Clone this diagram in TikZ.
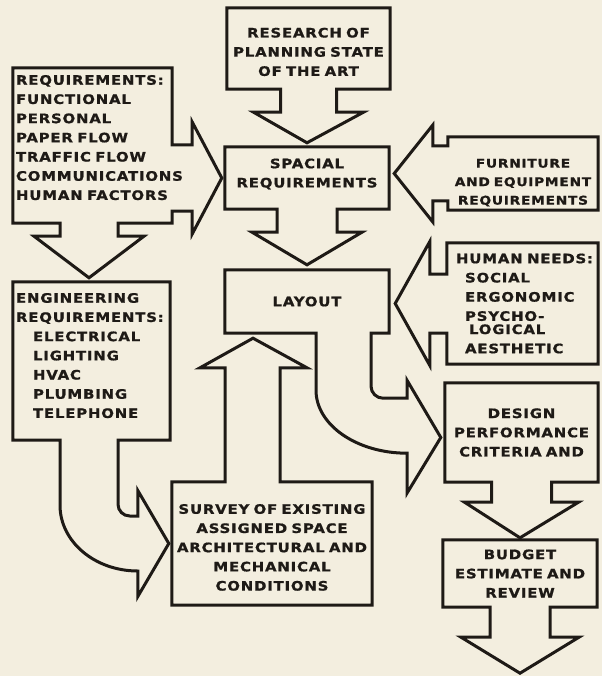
\documentclass[tikz,border=0pt]{standalone}
\usepackage{fontspec}
\newfontfamily\flowfont{DejaVu Sans}[FakeStretch=1.15, FakeBold=1, LetterSpace=6, WordSpace=0.7]
\usepackage{tikz}
\usetikzlibrary{calc}

\definecolor{paper}{RGB}{243,238,223}
\definecolor{ink}{RGB}{30,26,22}

\begin{document}
\begin{tikzpicture}[
    x=1pt, y=-1pt,
    every node/.style={font=\flowfont\bfseries\fontsize{13}{19.2}\selectfont, text=ink},
    card/.style={inner sep=2pt, align=center},
    listcard/.style={inner ysep=2pt, align=left},
    outline/.style={draw=ink, line width=3pt}
]
\useasboundingbox (0,0) rectangle (602,676);
\fill[paper] (0,0) rectangle (602,676);

% Centre column
\node[card, minimum width=163pt, minimum height=81pt] (research) at (308.5,48.5) {\rule{0pt}{16.5pt}RESEARCH OF\\PLANNING STATE\\OF THE ART};
\node[card, minimum width=164pt, minimum height=62pt] (spacial) at (307,178) {SPACIAL\\REQUIREMENTS\rule[-10pt]{0pt}{10pt}};
\node[card, minimum width=164pt, minimum height=63pt] (layout) at (307,301.5) {LAYOUT};
\node[card, minimum width=200pt, minimum height=123pt] (survey) at (272,543.5) {\rule{0pt}{17.5pt}SURVEY OF EXISTING\\ASSIGNED SPACE\\ARCHITECTURAL AND\\MECHANICAL\\CONDITIONS};

% Left column
\node[listcard, inner xsep=3pt, text width=153pt, minimum width=159pt, minimum height=155pt] (req) at (92.5,145.5) {REQUIREMENTS:\\FUNCTIONAL\\PERSONAL\\PAPER~FLOW\\TRAFFIC~FLOW\\COMMUNICATIONS\\HUMAN~FACTORS\rule[-16pt]{0pt}{16pt}};
\node[listcard, inner xsep=3pt, text width=151pt, minimum width=157pt, minimum height=158pt] (eng) at (91.5,361) {ENGINEERING\\REQUIREMENTS:\\\hspace*{17pt}ELECTRICAL\\\hspace*{17pt}LIGHTING\\\hspace*{17pt}HVAC\\\hspace*{17pt}PLUMBING\\\hspace*{17pt}TELEPHONE\rule[-11pt]{0pt}{11pt}};

% Right column
\node[card, minimum width=150pt, minimum height=73pt, font=\flowfont\bfseries\fontsize{12}{18.5}\selectfont] (furniture) at (523,173.5) {\rule{0pt}{27pt}FURNITURE\\AND EQUIPMENT\\REQUIREMENTS};
\node[listcard, inner xsep=9pt, text width=133pt, minimum width=151pt, minimum height=121pt] (needs) at (522.5,303.5) {HUMAN~NEEDS:\\\hspace*{9pt}SOCIAL\\\hspace*{9pt}ERGONOMIC\\\hspace*{9pt}PSYCHO-\\[-6pt]\hspace*{13pt}LOGICAL\\\hspace*{9pt}AESTHETIC};
\node[card, minimum width=153pt, minimum height=99pt] (design) at (521.5,432.5) {DESIGN\\PERFORMANCE\\CRITERIA AND};
\node[card, minimum width=154pt, minimum height=67pt] (budget) at (520,573.5) {BUDGET\\ESTIMATE AND\\REVIEW};
\coordinate (finish) at ($(budget.south)+(0,66)$);

% Boxes with their block arrows
\draw[outline] (research.south west) -- (research.north west) -- (research.north east) -- (research.south east)
    -- ($(research.south)+(28,0)$) -- ++(0,23) -- ++(27,0) -- ($(spacial.north)+(0,-4)$)
    -- ($(research.south)+(-55,23)$) -- ++(27,0) -- ++(0,-23) -- cycle;

\draw[outline] (spacial.south west) -- (spacial.north west) -- (spacial.north east) -- (spacial.south east)
    -- ($(spacial.south)+(30,0)$) -- ++(0,23) -- ++(25,0) -- ($(layout.north)+(0,-5)$)
    -- ($(spacial.south)+(-55,23)$) -- ++(25,0) -- ++(0,-23) -- cycle;

\draw[outline] (layout.south west) -- (layout.north west) -- (layout.north east) -- (layout.south east)
    -- ($(layout.south)+(64,0)$) -- ($(layout.south)+(64,53)$)
    .. controls ($(layout.south)+(64,59.6)$) and ($(layout.south)+(69.4,65)$) .. ($(layout.south)+(76,65)$)
    -- ($(layout.south)+(100,65)$) -- ++(0,-18) -- ($(design.west)+(-4,5)$)
    -- ($(layout.south)+(100,160)$) -- ++(0,-40)
    .. controls ($(layout.south)+(49.8,120)$) and ($(layout.south)+(9,91.8)$) .. ($(layout.south)+(9,57)$)
    -- ($(layout.south)+(9,0)$) -- cycle;

\draw[outline] (req.north west) -- (req.north east) -- ($(req.east |- spacial.west)+(0,-33)$)
    -- ++(20,0) -- ++(0,-23) -- ($(spacial.west)+(-3,0)$)
    -- ($(req.east |- spacial.west)+(20,56)$) -- ++(0,-23) -- ++(-20,0)
    -- (req.south east) -- ($(req.south)+(25.5,0)$) -- ++(0,13) -- ++(26,0) -- ($(eng.north)+(-2.5,-4)$)
    -- ($(req.south)+(-58.5,13)$) -- ++(26,0) -- ++(0,-13) -- (req.south west) -- cycle;

\draw[outline] (eng.north west) -- (eng.north east) -- (eng.south east)
    -- ($(eng.south)+(26.5,0)$) -- ($(eng.south)+(26.5,64)$)
    .. controls ($(eng.south)+(26.5,70.6)$) and ($(survey.west)+(-48.6,-27.5)$) .. ($(survey.west)+(-42,-27.5)$)
    -- ($(survey.west)+(-34,-27.5)$) -- ($(survey.west)+(-34,-53)$) -- ($(survey.west)+(-3,0)$)
    -- ($(survey.west)+(-34,53)$) -- ($(survey.west)+(-34,27.5)$)
    .. controls ($(survey.west)+(-77,27.5)$) and ($(eng.south)+(-31.5,101.4)$) .. ($(eng.south)+(-31.5,65)$)
    -- ($(eng.south)+(-31.5,0)$) -- (eng.south west) -- cycle;

\draw[outline] (survey.south west) -- (survey.north west) -- ($(survey.north)+(-47,0)$) -- ++(0,-114) -- ++(-25,0)
    -- ($(layout.south)+(-54,5)$) -- ($(survey.north)+(35,-114)$) -- ++(-27,0) -- ++(0,114)
    -- (survey.north east) -- (survey.south east) -- cycle;

\draw[outline] (furniture.north west) -- (furniture.north east) -- (furniture.south east) -- (furniture.south west)
    -- ($(furniture.west)+(0,27.5)$) -- ++(-15,0) -- ++(0,21) -- ($(furniture.west -| spacial.east)+(5,0)$)
    -- ($(furniture.west)+(-15,-48.5)$) -- ++(0,21) -- ++(15,0) -- cycle;

\draw[outline] (needs.north west) -- (needs.north east) -- (needs.south east) -- (needs.south west)
    -- ($(needs.west)+(0,29.5)$) -- ++(-17,0) -- ++(0,32.5) -- ($(needs.west -| layout.east)+(6,0)$)
    -- ($(needs.west)+(-17,-62)$) -- ++(0,32.5) -- ++(17,0) -- cycle;

\draw[outline] (design.south west) -- (design.north west) -- (design.north east) -- (design.south east)
    -- ($(design.south)+(30,0)$) -- ++(0,20) -- ++(27,0) -- ($(budget.north)+(0,-2)$)
    -- ($(design.south)+(-57,20)$) -- ++(27,0) -- ++(0,-20) -- cycle;

\draw[outline] (budget.south west) -- (budget.north west) -- (budget.north east) -- (budget.south east)
    -- ($(budget.south)+(30,0)$) -- ++(0,30) -- ++(29,0) -- (finish)
    -- ($(budget.south)+(-59,30)$) -- ++(29,0) -- ++(0,-30) -- cycle;

\end{tikzpicture}
\end{document}
